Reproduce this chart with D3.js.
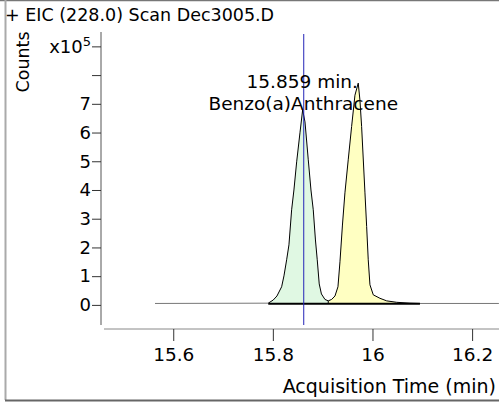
<!DOCTYPE html>
<html>
<head>
<meta charset="utf-8">
<script src="https://cdn.jsdelivr.net/npm/d3@7"></script>
<style>
html,body{margin:0;padding:0;background:#fff;}
svg{display:block;font-family:"DejaVu Sans",Verdana,sans-serif;}
</style>
</head>
<body>
<div id="chart"></div>
<script>
// ---- data ----
const title = "+ EIC (228.0) Scan Dec3005.D";
const yAxisTitle = "Counts";
const xAxisTitle = "Acquisition Time (min)";
const xTicks = [15.6, 15.8, 16, 16.2];
const xTickLabels = ["15.6", "15.8", "16", "16.2"];
const yTicks = [0, 1, 2, 3, 4, 5, 6, 7, 8, 9];
const yTickLabels = ["0", "1", "2", "3", "4", "5", "6", "7", "", "x10"];
const times = [15.5634, 15.7908, 15.8008, 15.8082, 15.8176, 15.8223, 15.8277, 15.8323, 15.8377, 15.8423,
  15.8478, 15.8544, 15.8598, 15.8645, 15.8711, 15.8765, 15.8811, 15.8855, 15.8891, 15.8931,
  15.8975, 15.9046, 15.9112, 15.9180, 15.9247, 15.9307, 15.9347, 15.9397, 15.9447, 15.9513,
  15.9581, 15.9648, 15.9714, 15.9748, 15.9782, 15.9849, 15.9883, 15.9915, 15.9949, 16.0016,
  16.0150, 16.0285, 16.0485, 16.0752, 16.0953, 16.2538];
const counts = [0.05, 0.06, 0.17, 0.31, 0.63, 1.01, 1.57, 2.09, 3.31, 4.00,
  4.98, 5.99, 6.79, 6.37, 5.05, 4.00, 3.31, 2.26, 1.57, 0.73,
  0.38, 0.19, 0.14, 0.19, 0.31, 0.63, 1.50, 2.78, 3.90, 5.05,
  6.21, 7.30, 7.72, 7.13, 6.21, 3.90, 2.73, 1.57, 0.70, 0.35,
  0.23, 0.14, 0.09, 0.06, 0.05, 0.05];
const peakNames = ["Benzo(a)Anthracene", ""];
const peakStart = [15.7908, 15.9112];
const peakEnd = [15.9112, 16.0485];
const peakFills = ["#e0f8e3", "#ffffc2"];
const integBaseStart = 15.7908, integBaseEnd = 16.0953, integBaseLevel = 0.04;
const markerTime = 15.859;
const markerLabel = "15.859 min.";

// ---- layout ----
const W = 499, H = 402;
const svg = d3.select("#chart").append("svg").attr("width", W).attr("height", H);

const x = d3.scaleLinear().domain([15.461, 16.254]).range([104, 499]);
const y = d3.scaleLinear().domain([-0.7, 9.5]).range([325, 32]);

// frame
svg.append("line").attr("x1", 0).attr("x2", W).attr("y1", 0.5).attr("y2", 0.5).attr("stroke", "#777").attr("stroke-width", 1.5);
svg.append("line").attr("x1", 5.5).attr("x2", 5.5).attr("y1", 0).attr("y2", 400).attr("stroke", "#aaa").attr("stroke-width", 2);
svg.append("line").attr("x1", 5).attr("x2", W).attr("y1", 400.5).attr("y2", 400.5).attr("stroke", "#666").attr("stroke-width", 2);

// title
svg.append("text").attr("x", 5).attr("y", 21).attr("font-size", 17.5).attr("fill", "#000").text(title);

// data pairs
const pts = times.map((t, i) => ({t, v: counts[i]}));

// fills
peakStart.forEach((s, k) => {
  const e = peakEnd[k];
  const seg = pts.filter(p => p.t >= s - 1e-9 && p.t <= e + 1e-9);
  const area = d3.area().x(p => x(p.t)).y0(y(integBaseLevel)).y1(p => y(p.v));
  svg.append("path").attr("d", area(seg)).attr("fill", peakFills[k]).attr("stroke", "none");
});

// signal line: gray outside integration, black inside
const line = d3.line().x(p => x(p.t)).y(p => y(p.v));
svg.append("path").attr("d", line(pts.filter(p => p.t <= integBaseStart + 1e-9))).attr("fill", "none").attr("stroke", "#777").attr("stroke-width", 1);
svg.append("path").attr("d", line(pts.filter(p => p.t >= integBaseEnd - 1e-9))).attr("fill", "none").attr("stroke", "#777").attr("stroke-width", 1);
svg.append("path").attr("d", line(pts.filter(p => p.t >= integBaseStart - 1e-9 && p.t <= integBaseEnd + 1e-9))).attr("fill", "none").attr("stroke", "#000").attr("stroke-width", 1);
// integration baseline
svg.append("line").attr("x1", x(integBaseStart)).attr("x2", x(integBaseEnd)).attr("y1", y(integBaseLevel)).attr("y2", y(integBaseLevel)).attr("stroke", "#000").attr("stroke-width", 2);
// peak split
svg.append("line").attr("x1", x(peakEnd[0])).attr("x2", x(peakEnd[0])).attr("y1", y(integBaseLevel)).attr("y2", y(0.14)).attr("stroke", "#000").attr("stroke-width", 1);

// marker line
svg.append("line").attr("x1", x(markerTime) + 1.5).attr("x2", x(markerTime) + 1.5).attr("y1", 34).attr("y2", 325).attr("stroke", "#2424b8").attr("stroke-width", 1);

// annotation
const ax = x(markerTime);
svg.append("text").attr("x", ax).attr("y", 88).attr("text-anchor", "middle").attr("font-size", 18.5).text(markerLabel);
svg.append("text").attr("x", ax + 1).attr("y", 110).attr("text-anchor", "middle").attr("font-size", 18.5).text(peakNames[0]);

// y axis
const yAxis = d3.axisLeft(y).tickValues(yTicks).tickSize(9).tickFormat((d, i) => yTickLabels[i]);
const gy = svg.append("g").attr("transform", "translate(101,0)").call(yAxis);
gy.select(".domain").attr("d", `M0,${y.range()[1]}V${y.range()[0]}`).attr("stroke", "#555");
gy.selectAll(".tick line").attr("stroke", "#333");
gy.selectAll(".tick text").attr("font-size", 18).attr("font-family", "DejaVu Sans, sans-serif").attr("fill", "#000").attr("x", -10);
gy.selectAll(".tick text").filter((d) => d === 9).append("tspan").attr("dy", -7).attr("font-size", 13).text("5");

// y title
svg.append("text").attr("transform", "translate(29,62) rotate(-90)").attr("text-anchor", "middle").attr("font-size", 17.5).text(yAxisTitle);

// x axis
const xAxis = d3.axisBottom(x).tickValues(xTicks).tickSize(12).tickPadding(7).tickFormat((d, i) => xTickLabels[i]);
const gx = svg.append("g").attr("transform", "translate(0,329)").call(xAxis);
gx.select(".domain").attr("d", `M${x.range()[0]},0H${x.range()[1]}`).attr("stroke", "#888");
gx.selectAll(".tick line").attr("stroke", "#333");
gx.selectAll(".tick text").attr("font-size", 18.5).attr("font-family", "DejaVu Sans, sans-serif").attr("fill", "#000");

svg.append("text").attr("x", 496).attr("y", 393).attr("text-anchor", "end").attr("font-size", 19).text(xAxisTitle);
</script>
</body>
</html>
